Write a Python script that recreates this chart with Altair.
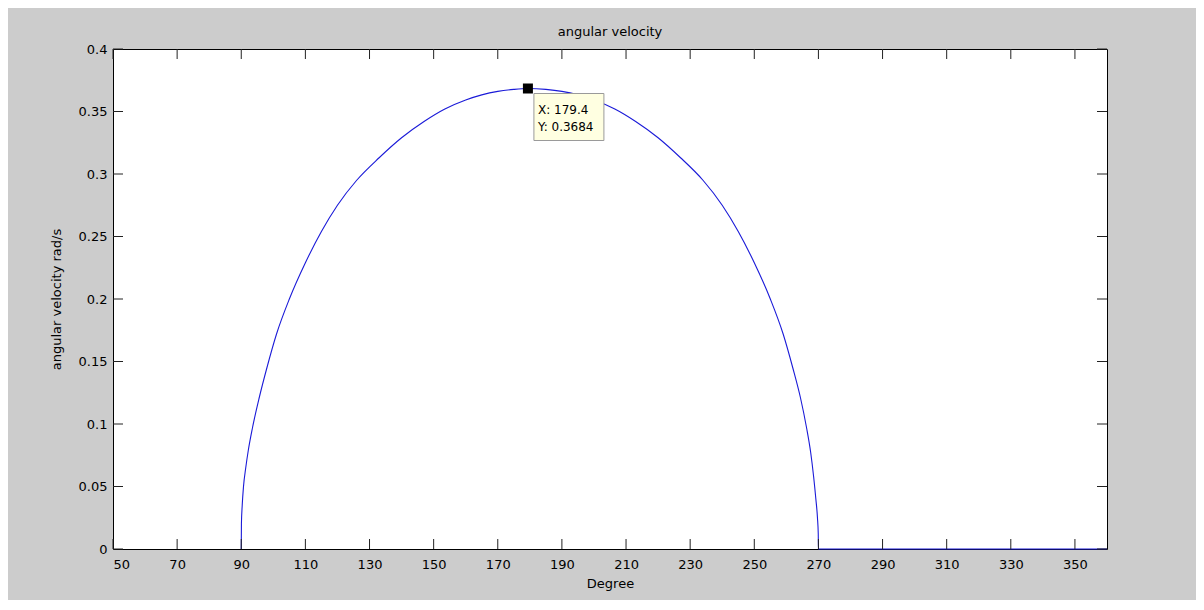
import altair as alt
import pandas as pd

# curve (degree, angular velocity rad/s)
deg = [90, 90.05, 90.3, 90.7, 91.4, 92.2, 93.5, 95.6, 98, 101, 105, 110, 115, 120,
       126, 133, 140, 147, 153.5, 160, 165, 170, 175, 179.4, 185, 190, 195, 200,
       206.5, 213, 220, 227, 234, 240, 245, 250, 255, 259, 262, 264.4, 266.3, 267.6,
       268.5, 269.2, 269.7, 269.95, 270, 300, 330, 360]
vel = [0, 0.02, 0.035, 0.05, 0.065, 0.079, 0.097, 0.121, 0.145, 0.172, 0.2, 0.229,
       0.254, 0.275, 0.295, 0.313, 0.329, 0.342, 0.352, 0.3592, 0.3633, 0.3661,
       0.3677, 0.3684, 0.3677, 0.3661, 0.3633, 0.3592, 0.352, 0.342, 0.329, 0.313,
       0.295, 0.275, 0.254, 0.229, 0.2, 0.172, 0.145, 0.121, 0.097, 0.077, 0.058,
       0.04, 0.025, 0.012, 0, 0, 0, 0]

x_ticks = [50, 70, 90, 110, 130, 150, 170, 190, 210, 230, 250, 270, 290, 310, 330, 350]
y_ticks = [0, 0.05, 0.1, 0.15, 0.2, 0.25, 0.3, 0.35, 0.4]

tip_x = [179.4]
tip_y = [0.3684]
tip_line1 = ["X: 179.4"]
tip_line2 = ["Y: 0.3684"]

W, H = 994, 500
FONT = "DejaVu Sans"
TICK = "#222222"

curve = pd.DataFrame({"deg": deg, "vel": vel})
xt = pd.DataFrame({"v": x_ticks})
yt = pd.DataFrame({"v": y_ticks})
tip = pd.DataFrame({"x": tip_x, "y": tip_y, "l1": tip_line1, "l2": tip_line2})

xscale = alt.Scale(domain=[50, 360], nice=False, zero=False)
yscale = alt.Scale(domain=[0, 0.4], nice=False, zero=False)

xaxis = alt.Axis(values=x_ticks, format="d", title="Degree", ticks=False, tickSize=0,
                 domain=False, grid=False, labelPadding=9, titlePadding=6,
                 labelFont=FONT, labelFontSize=13, labelColor="#000000",
                 titleFont=FONT, titleFontSize=13, titleFontWeight="normal",
                 titleColor="#000000")
yaxis = alt.Axis(values=y_ticks, format="~g", title="angular velocity rad/s",
                 ticks=False, tickSize=0, domain=False, grid=False, labelPadding=6,
                 titlePadding=15, labelFont=FONT, labelFontSize=13,
                 labelColor="#000000", titleFont=FONT, titleFontSize=13,
                 titleFontWeight="normal", titleColor="#000000")

line = alt.Chart(curve).mark_line(color="#1a1ad8", strokeWidth=1.1,
                                  interpolate="monotone").encode(
    x=alt.X("deg:Q", scale=xscale, axis=xaxis),
    y=alt.Y("vel:Q", scale=yscale, axis=yaxis),
)

bottom_ticks = alt.Chart(xt).mark_rule(color=TICK, strokeWidth=1).encode(
    x=alt.X("v:Q", scale=xscale), y=alt.value(H), y2=alt.value(H - 10))
top_ticks = alt.Chart(xt).mark_rule(color=TICK, strokeWidth=1).encode(
    x=alt.X("v:Q", scale=xscale), y=alt.value(0), y2=alt.value(10))
left_ticks = alt.Chart(yt).mark_rule(color=TICK, strokeWidth=1).encode(
    y=alt.Y("v:Q", scale=yscale), x=alt.value(0), x2=alt.value(10))
right_ticks = alt.Chart(yt).mark_rule(color=TICK, strokeWidth=1).encode(
    y=alt.Y("v:Q", scale=yscale), x=alt.value(W - 10), x2=alt.value(W))

box = alt.Chart(tip).mark_rect(fill="#ffffe1", stroke="#9a9a9a", strokeWidth=1,
                               xOffset=6, x2Offset=76, yOffset=5, y2Offset=52).encode(
    x=alt.X("x:Q", scale=xscale), x2="x:Q",
    y=alt.Y("y:Q", scale=yscale), y2="y:Q")

marker = alt.Chart(tip).mark_square(size=100, color="#000000", opacity=1,
                                    filled=True).encode(
    x=alt.X("x:Q", scale=xscale), y=alt.Y("y:Q", scale=yscale))

text1 = alt.Chart(tip).mark_text(align="left", baseline="middle", dx=10, dy=21,
                                 font=FONT, fontSize=12, color="#000000").encode(
    x=alt.X("x:Q", scale=xscale), y=alt.Y("y:Q", scale=yscale), text="l1:N")
text2 = alt.Chart(tip).mark_text(align="left", baseline="middle", dx=10, dy=38,
                                 font=FONT, fontSize=12, color="#000000").encode(
    x=alt.X("x:Q", scale=xscale), y=alt.Y("y:Q", scale=yscale), text="l2:N")

chart = alt.layer(
    line, bottom_ticks, top_ticks, left_ticks, right_ticks, box, marker, text1, text2
).properties(
    width=W, height=H,
    title=alt.TitleParams("angular velocity", font=FONT, fontSize=13,
                          fontWeight="normal", color="#000000", offset=4),
    autosize=alt.AutoSizeParams(type="none"),
    padding={"left": 105, "top": 41, "right": 89, "bottom": 51},
).configure(
    background="#cccccc",
).configure_view(
    fill="#ffffff", stroke="#000000", strokeWidth=1,
)

chart.save("out.html", embed_options={"renderer": "svg", "actions": False})
